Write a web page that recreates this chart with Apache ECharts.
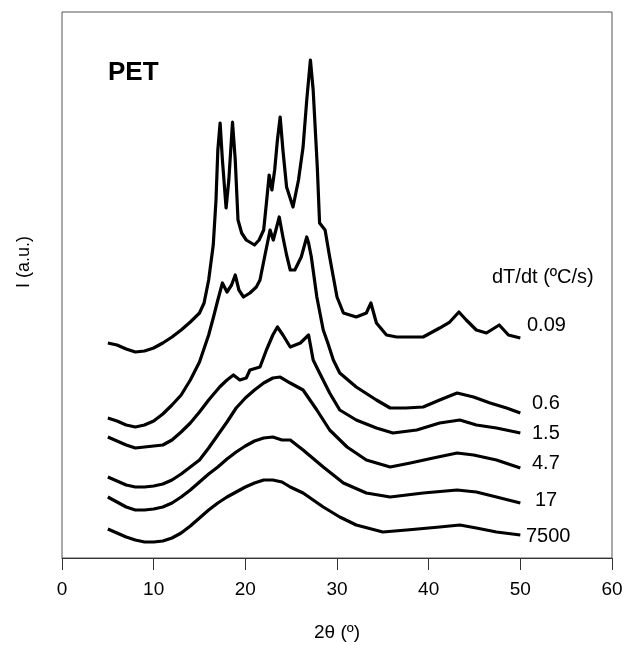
<!DOCTYPE html>
<html>
<head>
<meta charset="utf-8">
<script src="https://cdn.jsdelivr.net/npm/echarts@6/dist/echarts.min.js"></script>
<style>
html,body{margin:0;padding:0;background:#fff;}
#chart{width:624px;height:645px;}
</style>
</head>
<body>
<div id="chart"></div>
<script>
// 2θ (deg) / intensity (a.u.) pairs
const curve009 = [[5,215],[6,213],[7,209],[8,206],[9,207],[10,210],[11,215],[12,221],[13,228],[14,236],[15,245],[15.5,255],[16,278],[16.5,313],[16.8,358],[17.0,408],[17.25,435],[17.5,398],[17.9,350],[18.2,378],[18.6,436],[18.9,398],[19.2,338],[19.6,325],[20.1,318],[21,313],[21.5,318],[22,328],[22.3,355],[22.6,383],[22.9,368],[23.2,388],[23.5,418],[23.8,441],[24.1,408],[24.5,371],[25.2,351],[25.8,378],[26.3,411],[26.7,458],[27.1,498],[27.4,468],[27.85,391],[28.1,335],[28.7,328],[29.2,301],[30,261],[30.7,245],[32.1,241],[33.2,245],[33.7,255],[34.3,235],[35.4,223],[36.5,221],[39.4,221],[41.2,230],[42.3,236],[43.3,246],[44.1,238],[45.2,228],[46.3,225],[47.7,233],[48.7,223],[50,220]];
const curve06 = [[5,140],[6,137],[7,133],[8,131],[9,133],[10,137],[11,144],[12,153],[13,163],[14,178],[15,196],[16,223],[16.5,240],[17,258],[17.5,275],[18,266],[18.5,273],[18.9,283],[19.3,268],[19.8,261],[20.5,265],[21.2,271],[21.6,278],[22.1,301],[22.7,328],[23.05,318],[23.7,341],[24.1,321],[24.5,303],[24.9,288],[25.4,288],[26.1,301],[26.7,321],[26.9,315],[27.2,301],[27.8,261],[28.5,228],[29,215],[29.6,198],[30.3,185],[32.1,171],[34.3,158],[35.8,150],[37.5,150],[39.4,151],[41.2,158],[43.1,165],[44.9,161],[46.7,155],[48.5,150],[50,145]];
const curve15 = [[5,121],[6,117],[7,113],[8,110],[9,111],[10,112],[11,113],[12,118],[13,126],[14,135],[15,146],[16,158],[17.2,171],[18,178],[18.7,183],[19.4,178],[20.1,180],[20.5,188],[21.6,191],[22.3,208],[23.0,223],[23.5,231],[24.1,223],[24.9,211],[26,215],[26.9,223],[27.4,198],[28.1,185],[29.2,165],[30.3,148],[32.1,138],[34.3,130],[36.1,125],[38.7,128],[41.2,135],[43.4,138],[45.2,133],[47.4,130],[50,125]];
const curve47 = [[5,81],[6,77],[7,73],[8,71],[9,71],[10,72],[11,74],[12,78],[13,84],[14,91],[15,98],[16,110],[17,123],[18,136],[19,150],[20,160],[21,168],[22,175],[23,180],[23.8,181],[24.9,175],[26.3,168],[27.8,148],[29.2,128],[31.1,111],[33.2,98],[35.8,91],[38,95],[40.5,100],[43.1,105],[44.9,103],[47.4,98],[50,90]];
const curve17 = [[5,61],[6,56],[7,51],[8,48],[9,48],[10,49],[11,51],[12,55],[13,61],[14,68],[15,76],[16,84],[17,91],[18,99],[19,106],[20,112],[21,117],[22,120],[23,121],[24,118],[24.9,118],[26.3,108],[28.5,91],[30.7,75],[33.2,65],[35.8,61],[39.4,65],[43.1,68],[45.2,66],[47.4,61],[50,55]];
const curve7500 = [[5,29],[6,25],[7,21],[8,18],[9,16],[10,16],[11,17],[12,20],[13,25],[14,32],[15,40],[16,48],[17,55],[18,61],[19,66],[20,71],[21,75],[22,78],[23,78],[24,76],[24.9,71],[26.3,65],[28.5,51],[30.3,41],[32.1,33],[35,26],[37.6,28],[41.2,31],[43.4,33],[45.2,30],[47.4,26],[50,23]];

const seriesNames = ['0.09','0.6','1.5','4.7','17','7500'];
const seriesData = [curve009, curve06, curve15, curve47, curve17, curve7500];
const xTicks = [0,10,20,30,40,50,60];

const FONT = '"Liberation Sans", Arial, sans-serif';
const chart = echarts.init(document.getElementById('chart'), null, {renderer:'canvas'});

const labelPos = [
  {t:'0.09', x:527, y:325},
  {t:'0.6',  x:532, y:403},
  {t:'1.5',  x:532, y:433},
  {t:'4.7',  x:532, y:463},
  {t:'17',   x:535, y:500},
  {t:'7500', x:526, y:536}
];

chart.setOption({
  animation:false,
  backgroundColor:'#fff',
  grid:{left:62, right:12, top:12, bottom:87, containLabel:false, outerBoundsMode:'none',
        show:true, borderColor:'#555', borderWidth:1, backgroundColor:'transparent'},
  xAxis:{
    type:'value', min:0, max:60, interval:10,
    name:'2θ (º)', nameLocation:'middle', nameGap:65,
    nameTextStyle:{fontFamily:FONT, fontSize:19, color:'#000'},
    axisLine:{show:true, onZero:false, lineStyle:{color:'#333', width:1}},
    axisTick:{show:true, inside:false, length:12, lineStyle:{color:'#333'}},
    axisLabel:{fontFamily:FONT, fontSize:19, color:'#000', margin:22, formatter:v=>xTicks.includes(v)?String(v):''},
    splitLine:{show:false}
  },
  yAxis:{
    type:'value', min:0, max:546,
    axisLine:{show:false}, axisTick:{show:false}, axisLabel:{show:false}, splitLine:{show:false}
  },
  series: seriesData.map((d,i)=>({
    name:seriesNames[i], type:'line', data:d, showSymbol:false, symbol:'none',
    lineStyle:{color:'#000', width:3.2, join:'round'}, smooth:false
  })),
  graphic:[
    {type:'text', x:108, y:73, style:{text:'PET', font:'bold 26px '+FONT, fill:'#000', verticalAlign:'middle'}},
    {type:'text', x:492, y:277, style:{text:'dT/dt (ºC/s)', font:'20px '+FONT, fill:'#000', verticalAlign:'middle'}},
    {type:'text', x:24, y:262, rotation:Math.PI/2, style:{text:'I (a.u.)', font:'18px '+FONT, fill:'#000', align:'center', verticalAlign:'middle'}}
  ].concat(labelPos.map(p=>({type:'text', x:p.x, y:p.y, style:{text:p.t, font:'20px '+FONT, fill:'#000', verticalAlign:'middle'}})))
});
</script>
</body>
</html>
